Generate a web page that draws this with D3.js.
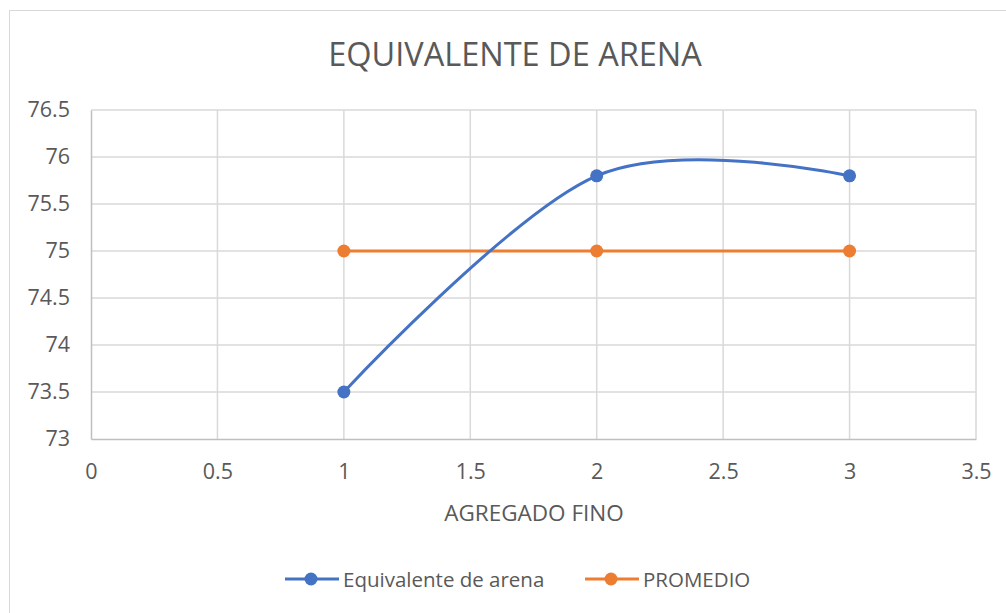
<!DOCTYPE html>
<html>
<head>
<meta charset="utf-8">
<script src="https://cdn.jsdelivr.net/npm/d3@7"></script>
<style>
  html, body { margin: 0; padding: 0; background: #fff; }
  svg text { font-family: "Open Sans", "Noto Sans", sans-serif; fill: #595959; }
</style>
</head>
<body>
<svg id="chart" width="1006" height="613"></svg>
<script>
// Series data
const xValues = [1, 2, 3];
const equivalenteValues = [73.5, 75.8, 75.8];
const promedioValues = [75, 75, 75];
const seriesNames = ["Equivalente de arena", "PROMEDIO"];
const xTicks = [0, 0.5, 1, 1.5, 2, 2.5, 3, 3.5];
const yTicks = [73, 73.5, 74, 74.5, 75, 75.5, 76, 76.5];

const svg = d3.select("#chart");
const colors = ["#4472C4", "#ED7D31"];

// Chart frame
svg.append("rect")
  .attr("x", 9.5).attr("y", 10.5)
  .attr("width", 1005).attr("height", 610)
  .attr("fill", "#fff").attr("stroke", "#d9d9d9").attr("stroke-width", 1);

const plot = { left: 91, right: 976, top: 110, bottom: 439 };

const x = d3.scaleLinear().domain([0, 3.5]).range([plot.left, plot.right]);
const y = d3.scaleLinear().domain([73, 76.5]).range([plot.bottom, plot.top]);

// Gridlines
const grid = svg.append("g");
grid.selectAll(".vg").data(xTicks.slice(1)).join("line")
  .attr("x1", d => x(d)).attr("x2", d => x(d))
  .attr("y1", plot.top).attr("y2", plot.bottom)
  .attr("stroke", "#d9d9d9").attr("stroke-width", 1.5);
grid.selectAll(".hg").data(yTicks.slice(1)).join("line")
  .attr("x1", plot.left).attr("x2", plot.right)
  .attr("y1", d => y(d)).attr("y2", d => y(d))
  .attr("stroke", "#d9d9d9").attr("stroke-width", 1.5);

// Axes
const tickFont = 21.5;
const xAxis = svg.append("g")
  .attr("transform", `translate(0,${plot.bottom})`)
  .call(d3.axisBottom(x).tickValues(xTicks).tickSize(0).tickPadding(0).tickFormat(d3.format("")));
xAxis.selectAll("text").attr("dy", null).attr("y", 40);
const yAxis = svg.append("g")
  .attr("transform", `translate(${plot.left},0)`)
  .call(d3.axisLeft(y).tickValues(yTicks).tickSize(0).tickPadding(21).tickFormat(d3.format("")));
[xAxis, yAxis].forEach(a => {
  a.select(".domain").attr("stroke", "#bfbfbf").attr("stroke-width", 1.5);
  a.selectAll("text").attr("font-size", tickFont).attr("fill", "#595959")
    .style("font-family", "'Open Sans', 'Noto Sans', sans-serif");
});

// Series lines
const pts0 = xValues.map((v, i) => [v, equivalenteValues[i]]);
const pts1 = xValues.map((v, i) => [v, promedioValues[i]]);

const smooth = d3.line().x(d => x(d[0])).y(d => y(d[1])).curve(d3.curveCardinal.tension(0));
const straight = d3.line().x(d => x(d[0])).y(d => y(d[1]));

svg.append("path").attr("d", straight(pts1))
  .attr("fill", "none").attr("stroke", colors[1]).attr("stroke-width", 3);
svg.append("path").attr("d", smooth(pts0))
  .attr("fill", "none").attr("stroke", colors[0]).attr("stroke-width", 3)
  .attr("stroke-linecap", "round");

svg.selectAll(".m1").data(pts1).join("circle")
  .attr("cx", d => x(d[0])).attr("cy", d => y(d[1])).attr("r", 6.5).attr("fill", colors[1]);
svg.selectAll(".m0").data(pts0).join("circle")
  .attr("cx", d => x(d[0])).attr("cy", d => y(d[1])).attr("r", 6.5).attr("fill", colors[0]);

// Title
svg.append("text").attr("x", 515).attr("y", 66).attr("text-anchor", "middle")
  .attr("font-size", 32.5).text("EQUIVALENTE DE ARENA");

// Axis title
svg.append("text").attr("x", 534).attr("y", 521).attr("text-anchor", "middle")
  .attr("font-size", 22.5).text("AGREGADO FINO");

// Legend
const legendItems = [
  { name: seriesNames[0], color: colors[0], x0: 285 },
  { name: seriesNames[1], color: colors[1], x0: 585 }
];
const lg = svg.append("g");
legendItems.forEach(it => {
  const ly = 579;
  lg.append("line").attr("x1", it.x0).attr("x2", it.x0 + 54)
    .attr("y1", ly).attr("y2", ly).attr("stroke", it.color).attr("stroke-width", 3);
  lg.append("circle").attr("cx", it.x0 + 26).attr("cy", ly).attr("r", 6.5).attr("fill", it.color);
  lg.append("text").attr("x", it.x0 + 58).attr("y", ly + 7.5).attr("font-size", 20.5).text(it.name);
});
</script>
</body>
</html>
